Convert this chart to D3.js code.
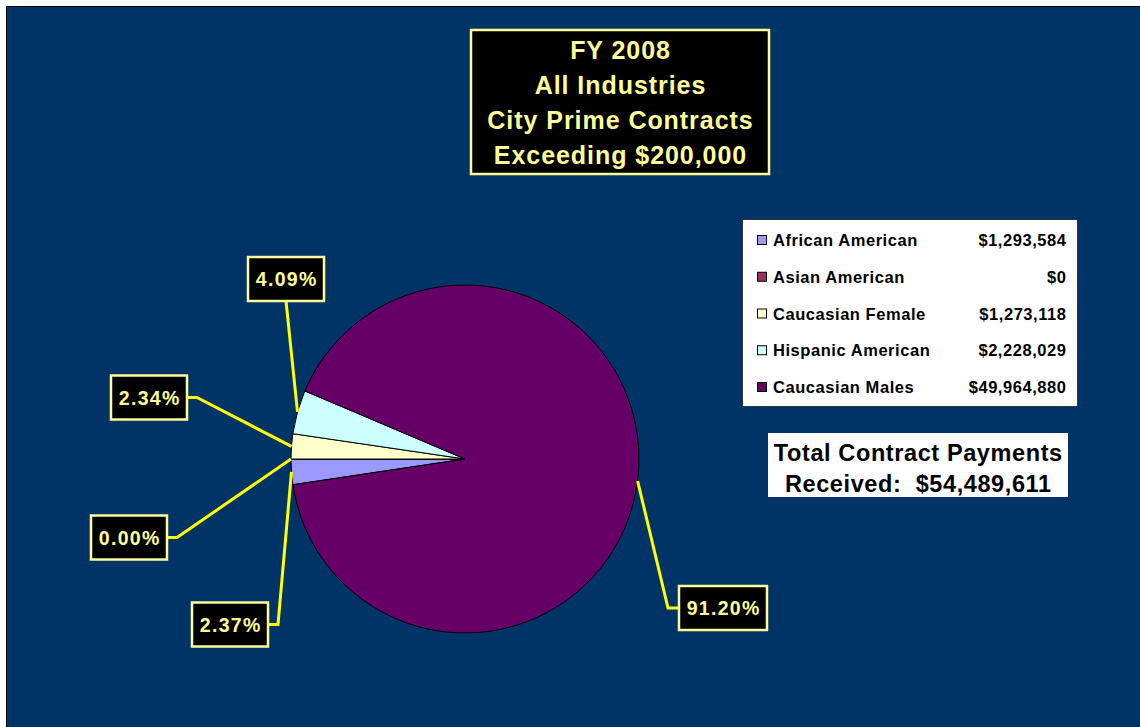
<!DOCTYPE html>
<html>
<head>
<meta charset="utf-8">
<script src="https://cdn.jsdelivr.net/npm/d3@7"></script>
<style>
  body { margin: 0; background: #fff; }
  svg { display: block; font-family: "Liberation Sans", Arial, sans-serif; }
</style>
</head>
<body>
<svg id="chart" width="1140" height="727"></svg>
<script>
// data
const categories = ['African American', 'Asian American', 'Caucasian Female', 'Hispanic American', 'Caucasian Males'];
const amounts = [1293584, 0, 1273118, 2228029, 49964880];
const amountLabels = ['$1,293,584', '$0', '$1,273,118', '$2,228,029', '$49,964,880'];
const percentLabels = ['2.37%', '0.00%', '2.34%', '4.09%', '91.20%'];
const colors = ['#9999FF', '#993366', '#FFFFCC', '#CCFFFF', '#660066'];
const titleLines = ['FY 2008', 'All Industries', 'City Prime Contracts', 'Exceeding $200,000'];
const totalLines = ['Total Contract Payments', 'Received:  $54,489,611'];

// label box placement (center x, center y, width, side of the leader)
const labelLayout = [
  {cx: 230, cy: 624.5, w: 76, side: 'right'},
  {cx: 129, cy: 537.5, w: 76, side: 'right'},
  {cx: 149, cy: 397.5, w: 76, side: 'right'},
  {cx: 286, cy: 279, w: 76, side: 'bottom'},
  {cx: 723, cy: 608, w: 88, side: 'left'}
];

const svg = d3.select('#chart');

// background panel
svg.append('rect').attr('x', 6.5).attr('y', 6.5).attr('width', 1140).attr('height', 730)
  .attr('fill', '#003366').attr('stroke', '#000').attr('stroke-width', 1);

// pie
const cx = 465, cy = 459, r = 174;
const total = d3.sum(amounts);
const start = 1.5 * Math.PI - (amounts[0] / total) * 2 * Math.PI;
const pie = d3.pie().sort(null).value(d => d).startAngle(start).endAngle(start + 2 * Math.PI);
const arcs = pie(amounts);
const arc = d3.arc().innerRadius(0).outerRadius(r);

const g = svg.append('g').attr('transform', `translate(${cx},${cy})`);
g.selectAll('path')
  .data(arcs)
  .enter().append('path')
  .attr('d', arc)
  .attr('fill', (d, i) => colors[i])
  .attr('stroke', '#000')
  .attr('stroke-width', 1)
  .attr('stroke-linejoin', 'round');

// leader lines + percent labels
const lab = svg.append('g');
arcs.forEach((a, i) => {
  const L = labelLayout[i];
  const mid = (a.startAngle + a.endAngle) / 2;
  const ax = cx + r * Math.sin(mid);
  const ay = cy - r * Math.cos(mid);
  const h = 44;
  let pts;
  if (L.side === 'bottom') {
    pts = [[L.cx, L.cy + h / 2], [ax, ay]];
  } else if (L.side === 'right') {
    pts = [[L.cx + L.w / 2, L.cy], [L.cx + L.w / 2 + 10, L.cy], [ax, ay]];
  } else {
    pts = [[L.cx - L.w / 2, L.cy], [L.cx - L.w / 2 - 11, L.cy], [ax, ay]];
  }
  lab.append('path')
    .attr('d', d3.line()(pts))
    .attr('fill', 'none')
    .attr('stroke', '#FFFF00')
    .attr('stroke-width', 3);
  lab.append('rect')
    .attr('x', L.cx - L.w / 2).attr('y', L.cy - h / 2)
    .attr('width', L.w).attr('height', h)
    .attr('fill', '#000').attr('stroke', '#FFFF99').attr('stroke-width', 2.5);
  lab.append('text')
    .attr('x', L.cx + 0.7).attr('y', L.cy + 7)
    .attr('text-anchor', 'middle')
    .attr('font-size', 19.5).attr('font-weight', 'bold')
    .attr('letter-spacing', 1.3)
    .attr('fill', '#FFFF99')
    .text(percentLabels[i]);
});

// title box
svg.append('rect').attr('x', 471).attr('y', 30).attr('width', 298).attr('height', 144)
  .attr('fill', '#000').attr('stroke', '#FFFF99').attr('stroke-width', 2.5);
svg.append('g').selectAll('text')
  .data(titleLines)
  .enter().append('text')
  .attr('x', 620.5)
  .attr('y', (d, i) => 59 + i * 35)
  .attr('text-anchor', 'middle')
  .attr('font-size', 25).attr('font-weight', 'bold')
  .attr('letter-spacing', 0.95)
  .attr('fill', '#FFFF99')
  .text(d => d);

// legend
const legend = svg.append('g');
legend.append('rect').attr('x', 742.5).attr('y', 219.5).attr('width', 335).attr('height', 187)
  .attr('fill', '#fff').attr('stroke', '#333').attr('stroke-width', 1);
const rowY = d3.scalePoint().domain(categories).range([240, 387]);
const rows = legend.selectAll('g.row')
  .data(categories)
  .enter().append('g')
  .attr('class', 'row')
  .attr('transform', d => `translate(0,${rowY(d)})`);
rows.append('rect')
  .attr('x', 757.5).attr('y', -4.5).attr('width', 9).attr('height', 9)
  .attr('fill', (d, i) => colors[i]).attr('stroke', '#000').attr('stroke-width', 1);
rows.append('text')
  .attr('x', 773).attr('y', 6)
  .attr('font-size', 16.5).attr('font-weight', 'bold').attr('fill', '#000')
  .attr('letter-spacing', 0.55)
  .text(d => d);
rows.append('text')
  .attr('x', 1066.5).attr('y', 6)
  .attr('text-anchor', 'end')
  .attr('font-size', 16.5).attr('font-weight', 'bold').attr('fill', '#000')
  .attr('letter-spacing', 0.55)
  .text((d, i) => amountLabels[i]);

// total box
svg.append('rect').attr('x', 768).attr('y', 433).attr('width', 300).attr('height', 64).attr('fill', '#fff');
svg.append('g').selectAll('text')
  .data(totalLines)
  .enter().append('text')
  .attr('x', 918.3)
  .attr('y', (d, i) => 461 + i * 31)
  .attr('text-anchor', 'middle')
  .attr('font-size', 23.5).attr('font-weight', 'bold').attr('fill', '#000')
  .attr('letter-spacing', 0.6)
  .attr('xml:space', 'preserve')
  .style('white-space', 'pre')
  .text(d => d);
</script>
</body>
</html>
